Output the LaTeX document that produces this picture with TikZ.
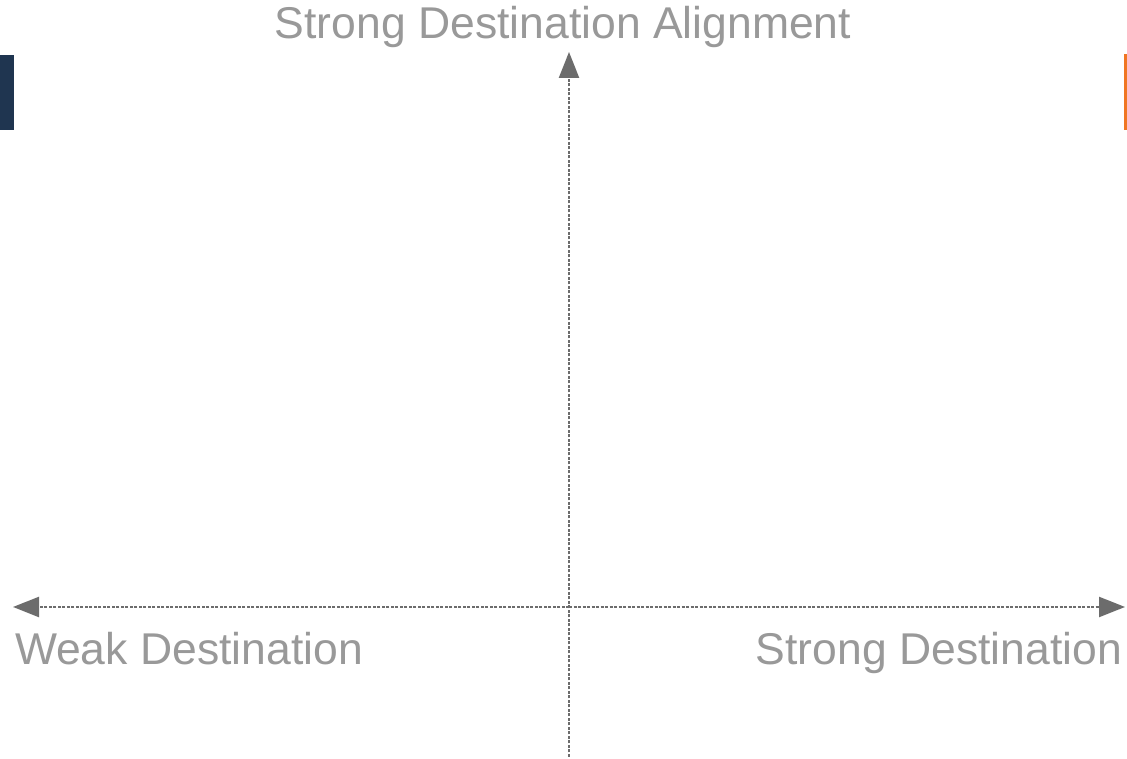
\documentclass[tikz,border=0pt]{standalone}
\usepackage{fontspec}
\setmainfont{Liberation Sans}
\usepackage{xcolor}
\usetikzlibrary{positioning,arrows.meta}

\tikzset{
  axislabel/.style={text=labelColor,inner sep=0pt,outer sep=0pt,font=\fontsize{44.5}{50}\selectfont},
  axisline/.style={draw=axisColor,line width=2.4pt,dash pattern=on 3pt off 1.5pt,
    -{Triangle[length=26pt,width=20pt]}},
}

\begin{document}
\begin{tikzpicture}[x=1pt,y=1pt]
\definecolor{fillColor}{RGB}{255,255,255}
\definecolor{labelColor}{RGB}{153,153,153}
\definecolor{axisColor}{RGB}{108,108,108}
\definecolor{navyColor}{RGB}{31,53,80}
\definecolor{orangeColor}{RGB}{240,118,34}
\path[use as bounding box,fill=fillColor] (0,0) rectangle (1127,759);

% side bars
\path[fill=navyColor] (0,629) rectangle (14,704);
\path[fill=orangeColor] (1124,629) rectangle (1127,705);

% axis ends
\coordinate (origin) at (569,152);
\coordinate (top) at (569,707);
\coordinate (bottom) at (569,2);
\coordinate (left) at (13,152);
\coordinate (right) at (1125,152);

\draw[axisline] (bottom) -- (top);
\draw[axisline] (origin) -- (left);
\draw[axisline] (origin) -- (right);

% labels
\node[axislabel,anchor=base] (alignment) at (563,720) {Strong Destination Alignment};
\node[axislabel,anchor=base west] (weak) at (15,94) {Weak Destination};
\node[axislabel,anchor=base east] (strong) at (1122,94) {Strong Destination};
\end{tikzpicture}
\end{document}
